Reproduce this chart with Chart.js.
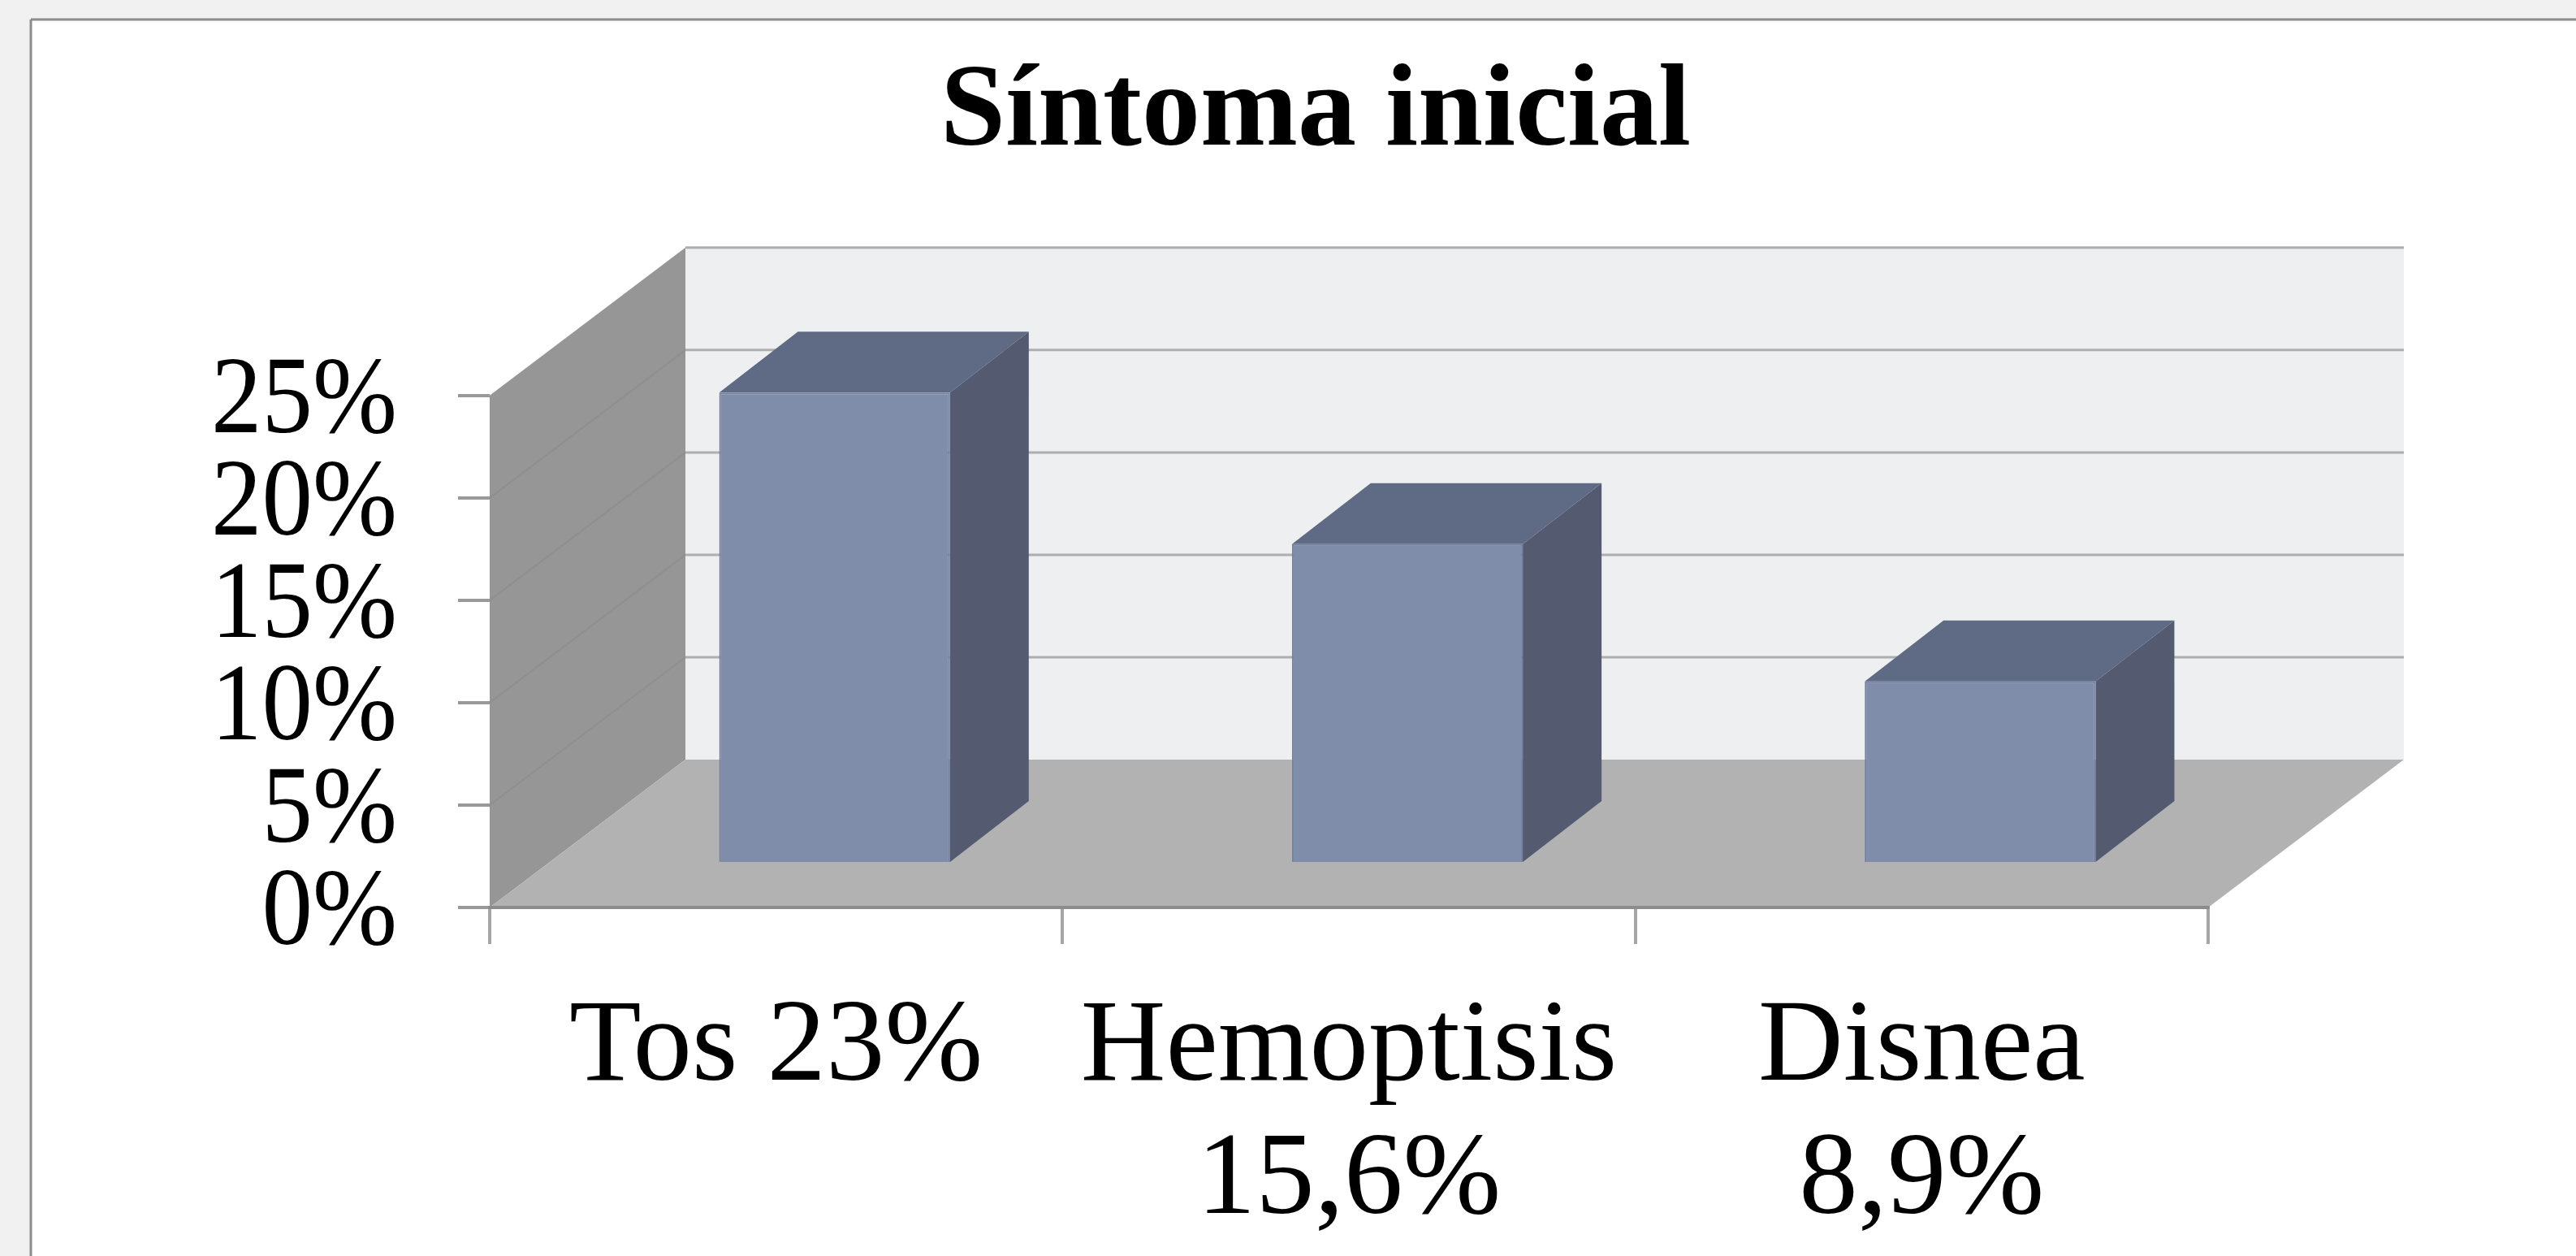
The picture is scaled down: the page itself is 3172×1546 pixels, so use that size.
<!DOCTYPE html>
<html>
<head>
<meta charset="utf-8">
<title>Síntoma inicial</title>
<script src="https://cdn.jsdelivr.net/npm/chart.js@4"></script>
<style>
  html, body { margin: 0; padding: 0; background: #f1f1f1; }
  #wrap { position: absolute; left: 0; top: 0; width: 3172px; height: 1546px; }
</style>
</head>
<body>
<div id="wrap"><canvas id="chart"></canvas></div>
<script>
const categories = [['Tos 23%'], ['Hemoptisis', '15,6%'], ['Disnea', '8,9%']];
const seriesValues = [23, 15.6, 8.9];
const yTicks = [0, 5, 10, 15, 20, 25];
const titleText = 'Síntoma inicial';

// depth of the fake 3D box and of the bars, in px
const wallDepth = { x: 241, y: -182 };
const barOffset = { x: 72, y: -54 };
const barDepth = { x: 97, y: -75 };

function poly(ctx, color, pts) {
  ctx.fillStyle = color;
  ctx.beginPath();
  pts.forEach((p, i) => (i ? ctx.lineTo(p[0], p[1]) : ctx.moveTo(p[0], p[1])));
  ctx.closePath();
  ctx.fill();
}

function line(ctx, color, width, x1, y1, x2, y2) {
  ctx.strokeStyle = color;
  ctx.lineWidth = width;
  ctx.beginPath();
  ctx.moveTo(x1, y1);
  ctx.lineTo(x2, y2);
  ctx.stroke();
}

const box3d = {
  id: 'box3d',
  beforeDraw(chart) {
    const { ctx, chartArea: a, scales: { y } } = chart;
    const dx = wallDepth.x, dy = wallDepth.y;
    ctx.save();
    // panel
    ctx.fillStyle = '#ffffff';
    ctx.fillRect(38, 24, chart.width - 38, chart.height - 24);
    line(ctx, '#8c8c8c', 3, 38, 1546, 38, 24);
    line(ctx, '#8c8c8c', 3, 38, 24, 3172, 24);
    // back wall, side wall, floor
    poly(ctx, '#eeeff1', [[a.left + dx, a.top + dy], [a.right + dx, a.top + dy], [a.right + dx, a.bottom + dy], [a.left + dx, a.bottom + dy]]);
    poly(ctx, '#969696', [[a.left, a.bottom], [a.left, a.top], [a.left + dx, a.top + dy], [a.left + dx, a.bottom + dy]]);
    poly(ctx, '#b2b2b2', [[a.left, a.bottom], [a.left + dx, a.bottom + dy], [a.right + dx, a.bottom + dy], [a.right, a.bottom]]);
    // gridlines along the side wall and back wall
    yTicks.forEach(v => {
      const py = y.getPixelForValue(v);
      if (v > 0 && v < 25) line(ctx, '#8f8f8f', 2, a.left, py, a.left + dx, py + dy);
      if (v > 0) line(ctx, '#aeaeae', 3, a.left + dx, py + dy, a.right + dx, py + dy);
    });
    ctx.restore();
  },
  afterDraw(chart) {
    // y labels are narrower than they are tall in the original, so squeeze them
    const { ctx, scales: { y } } = chart;
    ctx.save();
    ctx.font = '135px "Liberation Serif"';
    ctx.fillStyle = '#000000';
    ctx.textAlign = 'right';
    ctx.textBaseline = 'middle';
    y.ticks.forEach(t => {
      ctx.save();
      ctx.translate(489, y.getPixelForValue(t.value) + 10);
      ctx.scale(0.925, 1);
      ctx.fillText(t.label, 0, 0);
      ctx.restore();
    });
    ctx.restore();
  },
  beforeDatasetDraw(chart, args) {
    const { ctx } = chart;
    ctx.save();
    ctx.translate(barOffset.x, barOffset.y);
    args.meta.data.forEach(bar => {
      const left = bar.x - bar.width / 2, right = bar.x + bar.width / 2;
      const dx = barDepth.x, dy = barDepth.y;
      poly(ctx, '#5f6b85', [[left, bar.y], [left + dx, bar.y + dy], [right + dx, bar.y + dy], [right, bar.y]]);
      poly(ctx, '#545b70', [[right, bar.y], [right + dx, bar.y + dy], [right + dx, bar.base + dy], [right, bar.base]]);
    });
  },
  afterDatasetDraw(chart) {
    chart.ctx.restore();
  }
};

new Chart(document.getElementById('chart'), {
  type: 'bar',
  data: {
    labels: categories,
    datasets: [{
      data: seriesValues,
      backgroundColor: '#7f8dab',
      borderColor: '#72809f',
      borderWidth: 2,
      categoryPercentage: 1,
      barPercentage: 0.403,
      clip: false
    }]
  },
  options: {
    responsive: true,
    maintainAspectRatio: false,
    animation: false,
    layout: { padding: { left: 521, right: 453, top: 0, bottom: 0 } },
    plugins: {
      legend: { display: false },
      tooltip: { enabled: false },
      title: {
        display: true,
        text: titleText,
        color: '#000000',
        font: { family: '"Liberation Serif"', size: 144, weight: 'bold', lineHeight: 1.2 },
        padding: { top: 54, bottom: 260 }
      }
    },
    scales: {
      x: {
        afterFit: s => { s.height = 429; },
        grid: { offset: true, drawOnChartArea: false, color: '#a6a6a6', lineWidth: 4, tickLength: 45 },
        border: { color: '#8c8c8c', width: 4 },
        ticks: {
          color: '#000000',
          padding: 47,
          maxRotation: 0,
          autoSkip: false,
          font: { family: '"Liberation Serif"', size: 145, lineHeight: 1.13 }
        }
      },
      y: {
        min: 0,
        max: 25,
        afterFit: s => { s.width = 82; },
        grid: { drawOnChartArea: false, color: '#999999', lineWidth: 4, tickLength: 39 },
        border: { display: false },
        ticks: {
          stepSize: 5,
          display: false,
          callback: v => v + '%'
        }
      }
    }
  },
  plugins: [box3d]
});
</script>
</body>
</html>
